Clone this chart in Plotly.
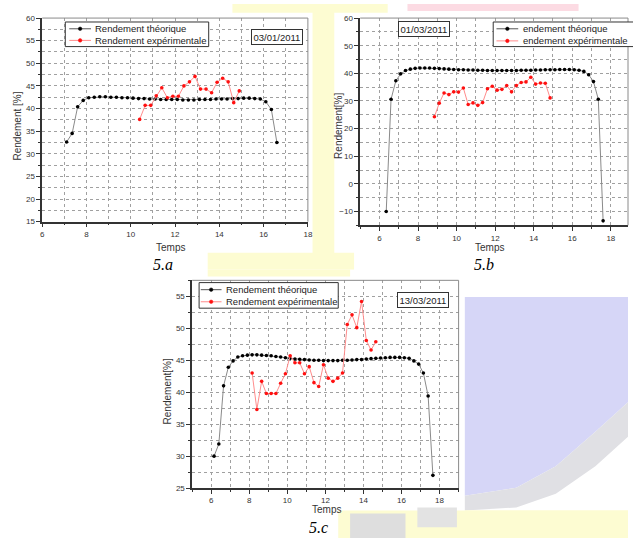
import plotly.graph_objects as go

W, H = 633, 543

# ---------------- data ----------------
a_theo_t = [7.10, 7.35, 7.60, 7.85, 8.10, 8.35, 8.60, 8.85, 9.10, 9.35, 9.60, 9.85, 10.10,
            10.35, 10.60, 10.85, 11.10, 11.35, 11.60, 11.85, 12.10, 12.35, 12.60, 12.85,
            13.10, 13.35, 13.60, 13.85, 14.10, 14.35, 14.60, 14.85, 15.10, 15.35, 15.60,
            15.85, 16.10, 16.35, 16.60]
a_theo = [32.6, 34.5, 40.4, 41.8, 42.4, 42.5, 42.6, 42.6, 42.5, 42.5,
          42.4, 42.4, 42.3, 42.2, 42.2, 42.1, 42.1, 42.0, 42.0, 42.0,
          42.0, 41.9, 41.9, 41.9, 42.0, 42.0, 42.0, 42.1, 42.1, 42.1,
          42.2, 42.2, 42.3, 42.3, 42.2, 42.1, 41.5, 39.8, 32.5]
a_exp_t = [10.40, 10.65, 10.90, 11.15, 11.40, 11.65, 11.90, 12.15, 12.40, 12.65,
           12.90, 13.15, 13.40, 13.65, 13.90, 14.15, 14.40, 14.65, 14.90]
a_exp = [37.6, 40.7, 40.7, 42.8, 44.6, 42.4, 42.7, 42.7, 45.0, 45.9,
         47.1, 44.3, 44.3, 43.5, 45.8, 46.7, 45.9, 41.3, 43.9]

b_theo_t = [6.35, 6.60, 6.85, 7.10, 7.35, 7.60, 7.85, 8.10, 8.35, 8.60,
            8.85, 9.10, 9.35, 9.60, 9.85, 10.10, 10.35, 10.60, 10.85, 11.10,
            11.35, 11.60, 11.85, 12.10, 12.35, 12.60, 12.85, 13.10, 13.35, 13.60,
            13.85, 14.10, 14.35, 14.60, 14.85, 15.10, 15.35, 15.60, 15.85, 16.10,
            16.35, 16.60, 16.85, 17.10, 17.35, 17.60]
b_theo = [-10.0, 30.6, 37.3, 39.8, 41.0, 41.5, 41.8, 41.9, 41.9, 41.9,
          41.8, 41.7, 41.6, 41.5, 41.4, 41.3, 41.3, 41.2, 41.2, 41.1,
          41.1, 41.0, 41.0, 41.0, 41.0, 41.0, 41.0, 41.0, 41.1, 41.1,
          41.1, 41.2, 41.2, 41.3, 41.3, 41.3, 41.4, 41.4, 41.4, 41.3,
          41.1, 40.7, 39.5, 37.0, 30.6, -13.4]
b_exp_t = [8.85, 9.10, 9.35, 9.60, 9.85, 10.10, 10.35, 10.60, 10.85, 11.10,
           11.35, 11.60, 11.85, 12.10, 12.35, 12.60, 12.85, 13.10, 13.35, 13.60,
           13.85, 14.10, 14.35, 14.60, 14.85]
b_exp = [24.3, 29.2, 32.9, 32.3, 33.3, 33.2, 34.7, 28.7, 29.3, 28.4,
         29.4, 34.4, 35.3, 33.9, 34.2, 35.6, 33.3, 35.6, 36.7, 36.9,
         38.6, 36.1, 36.5, 36.4, 31.1]

c_theo_t = [6.15, 6.40, 6.65, 6.90, 7.15, 7.40, 7.65, 7.90, 8.15, 8.40,
            8.65, 8.90, 9.15, 9.40, 9.65, 9.90, 10.15, 10.40, 10.65, 10.90,
            11.15, 11.40, 11.65, 11.90, 12.15, 12.40, 12.65, 12.90, 13.15, 13.40,
            13.65, 13.90, 14.15, 14.40, 14.65, 14.90, 15.15, 15.40, 15.65, 15.90,
            16.15, 16.40, 16.65, 16.90, 17.15, 17.40, 17.65]
c_theo = [30.0, 31.9, 41.0, 43.9, 44.9, 45.5, 45.7, 45.8, 45.85, 45.85,
          45.8, 45.75, 45.7, 45.6, 45.5, 45.4, 45.3, 45.2, 45.15, 45.1,
          45.05, 45.0, 45.0, 44.95, 44.95, 44.95, 44.95, 45.0, 45.0, 45.05,
          45.1, 45.1, 45.2, 45.25, 45.3, 45.35, 45.4, 45.45, 45.45, 45.45,
          45.4, 45.3, 44.9, 44.4, 43.0, 39.4, 27.0]
c_exp_t = [8.15, 8.40, 8.65, 8.90, 9.15, 9.40, 9.65, 9.90, 10.15, 10.40,
           10.65, 10.90, 11.15, 11.40, 11.65, 11.90, 12.15, 12.40, 12.65, 12.90,
           13.15, 13.40, 13.65, 13.90, 14.15, 14.40, 14.65]
c_exp = [43.0, 37.3, 41.7, 39.8, 39.8, 39.8, 41.4, 42.9, 45.7, 44.6,
         44.6, 42.9, 44.0, 41.5, 40.9, 44.3, 42.2, 41.7, 42.2, 43.0,
         50.6, 52.1, 50.1, 54.2, 48.1, 46.6, 47.9]

names_a = ["Rendement théorique", "Rendement expérimentale"]
names_b = ["endement théorique", "endement expérimentale"]
names_c = ["Rendement théorique", "Rendement expérimentale"]
dates = ["03/01/2011", "01/03/2011", "13/03/2011"]
captions = ["5.a", "5.b", "5.c"]
x_title = "Temps"
y_titles = ["Rendement [%]", "Rendement[%]", "Rendement[%]"]

# ---------------- helpers ----------------
def fx(px):
    return px / W

def fy(py):
    return 1 - py / H

FONT = "Arial, Liberation Sans, sans-serif"
THEO_LINE = "#8a8a8a"
THEO_MARK = "black"
EXP_LINE = "#ff8c8c"
EXP_MARK = "#ff1010"

fig = go.Figure()

def add_pair(tt, tv, et, ev, names, xa, ya):
    fig.add_trace(go.Scatter(x=tt, y=tv, mode="lines+markers", name=names[0],
                             line=dict(color=THEO_LINE, width=1),
                             marker=dict(color=THEO_MARK, size=3.6),
                             xaxis=xa, yaxis=ya, showlegend=False))
    fig.add_trace(go.Scatter(x=et, y=ev, mode="lines+markers", name=names[1],
                             line=dict(color=EXP_LINE, width=1),
                             marker=dict(color=EXP_MARK, size=3.6),
                             xaxis=xa, yaxis=ya, showlegend=False))

add_pair(a_theo_t, a_theo, a_exp_t, a_exp, names_a, "x", "y")
add_pair(b_theo_t, b_theo, b_exp_t, b_exp, names_b, "x2", "y2")
add_pair(c_theo_t, c_theo, c_exp_t, c_exp, names_c, "x3", "y3")

GRID = "#a0a0a0"

def xaxis_cfg(dom, rng, anchor):
    return dict(domain=dom, range=rng, anchor=anchor, tick0=6, dtick=2,
                showline=True, linecolor="#333", linewidth=1.5,
                ticks="outside", ticklen=4, tickcolor="#333", tickwidth=1,
                showgrid=True, gridcolor=GRID, griddash="dot", gridwidth=1,
                minor=dict(dtick=1, tick0=6, showgrid=True, gridcolor=GRID,
                           griddash="dot", ticks="outside", ticklen=2, tickcolor="#333"),
                zeroline=False, tickfont=dict(size=8, color="#333", family=FONT))

def yaxis_cfg(dom, rng, anchor, dtick, mdtick, tick0):
    return dict(domain=dom, range=rng, anchor=anchor, tick0=tick0, dtick=dtick,
                showline=True, linecolor="#333", linewidth=1.5,
                ticks="outside", ticklen=4, tickcolor="#333", tickwidth=1,
                showgrid=True, gridcolor=GRID, griddash="dot", gridwidth=1,
                minor=dict(dtick=mdtick, tick0=tick0, showgrid=True, gridcolor=GRID,
                           griddash="dot", ticks="outside", ticklen=2, tickcolor="#333"),
                zeroline=False, tickfont=dict(size=8, color="#333", family=FONT))

# panel pixel boxes (left, top, right, bottom)
box_a = (40.7, 14.3, 309.3, 221.3)
box_b = (362.2, 14.3, 633.0, 225.0)
box_c = (192.3, 281.0, 461.7, 492.3)

def dom(box):
    l, t, r, b = box
    return [fx(l), min(fx(r), 1.0)], [fy(b), fy(t)]

dxa, dya = dom(box_a)
dxb, dyb = dom(box_b)
dxc, dyc = dom(box_c)

fig.update_layout(
    width=W, height=H, margin=dict(l=0, r=0, t=0, b=0),
    paper_bgcolor="white", plot_bgcolor="white",
    font=dict(family=FONT),
    xaxis=xaxis_cfg(dxa, [6, 18], "y"),
    yaxis=yaxis_cfg(dya, [15, 60], "x", 5, 2.5, 15),
    xaxis2=xaxis_cfg(dxb, [5, 18.89], "y2"),
    yaxis2=yaxis_cfg(dyb, [-15, 60], "x2", 10, 5, 0),
    xaxis3=xaxis_cfg(dxc, [5, 19], "y3"),
    yaxis3=yaxis_cfg(dyc, [25, 57.5], "x3", 5, 2.5, 25),
    showlegend=False,
)

shapes = []
ann = []

# lighter top/right frame lines
for xa in ["x", "x2", "x3"]:
    ya = xa.replace("x", "y")
    shapes.append(dict(type="line", xref=xa + " domain", yref=ya + " domain",
                       x0=0, x1=1, y0=1, y1=1, line=dict(color="#8a8a8a", width=1), layer="above"))
    shapes.append(dict(type="line", xref=xa + " domain", yref=ya + " domain",
                       x0=1, x1=1, y0=0, y1=1, line=dict(color="#8a8a8a", width=1), layer="above"))

# faint watermark-like background patches
def rect(x0, y0, x1, y1, color, layer="below", line=None):
    return dict(type="rect", xref="paper", yref="paper", x0=fx(x0), x1=fx(x1),
                y0=fy(y1), y1=fy(y0), fillcolor=color,
                line=line if line else dict(width=0), layer=layer)

def poly(pts, color):
    path = "M " + " L ".join(f"{fx(x)},{fy(y)}" for x, y in pts) + " Z"
    return dict(type="path", xref="paper", yref="paper", path=path,
                fillcolor=color, line=dict(width=0), layer="below")

YEL = "#fdfcd2"
shapes += [
    rect(314, 8, 336, 254, YEL),
    rect(233, 0, 390, 9, YEL),
    rect(208, 253, 356, 270, YEL),
    rect(410, 0, 583, 7, "#fcdbe3"),
    rect(208, 270, 352, 277, YEL),
    poly([(468, 298), (633, 298), (633, 405), (600, 435), (560, 470), (520, 492), (468, 500)], "#d6d6f7"),
    poly([(468, 500), (520, 492), (560, 470), (600, 435), (633, 405), (633, 440), (600, 470), (560, 498), (520, 512), (468, 515)], "#e0e0e4"),
    rect(340, 515, 633, 543, YEL),
    rect(468, 515, 633, 543, YEL),
    rect(352, 518, 408, 543, "#dedede"),
    rect(420, 512, 460, 532, "#e3e3e3"),
]

# manual legends (compact, like the original software)
LEG_FONT = dict(size=9.5, family=FONT, color="#222")

def legend(box, x_line0, x_line1, x_text, rows, names):
    l, t, r, b = box
    shapes.append(rect(l, t, r, b, "white", layer="above", line=dict(color="#333", width=1)))
    styles = [("#555", THEO_MARK), (EXP_LINE, EXP_MARK)]
    for (lc, mc), ry, nm in zip(styles, rows, names):
        shapes.append(dict(type="line", xref="paper", yref="paper",
                           x0=fx(x_line0), x1=fx(x_line1), y0=fy(ry), y1=fy(ry),
                           line=dict(color=lc, width=1), layer="above"))
        cx = (x_line0 + x_line1) / 2
        shapes.append(dict(type="circle", xref="paper", yref="paper",
                           x0=fx(cx - 1.8), x1=fx(cx + 1.8), y0=fy(ry + 1.8), y1=fy(ry - 1.8),
                           fillcolor=mc, line=dict(color=mc, width=0.5), layer="above"))
        ann.append(dict(x=fx(x_text), y=fy(ry), xref="paper", yref="paper", text=nm,
                        showarrow=False, font=LEG_FONT, xanchor="left", yanchor="middle"))

legend((64, 18.3, 209, 43.3), 68, 90, 92.5, (25.2, 37.0), names_a)
legend((496.7, 18.3, 640, 43.3), 500, 522, 524.5, (25.2, 37.5), names_b)
legend((199.3, 283.3, 340, 309.3), 201, 222, 224.5, (290.5, 302.8), names_c)

fig.update_layout(shapes=shapes)

# date boxes
for (cx, cy), d in zip([(277.8, 33.3), (426.8, 25.3), (425.8, 301.0)], dates):
    ann.append(dict(x=fx(cx), y=fy(cy), xref="paper", yref="paper", text=d, showarrow=False,
                    font=dict(size=9.5, family=FONT, color="#222"), bgcolor="white",
                    bordercolor="#333", borderwidth=1, borderpad=1.5,
                    xanchor="center", yanchor="middle"))
# axis titles
for (cx, cy) in [(170.7, 248.0), (492.7, 248.0), (328.0, 514.0)]:
    ann.append(dict(x=fx(cx), y=fy(cy), xref="paper", yref="paper", text=x_title, showarrow=False,
                    font=dict(size=10, family=FONT, color="#333"), xanchor="center", yanchor="middle"))
for (cx, cy), t in zip([(15.7, 124.0), (340.7, 124.0), (168.3, 393.5)], y_titles):
    ann.append(dict(x=fx(cx), y=fy(cy), xref="paper", yref="paper", text=t, showarrow=False,
                    textangle=-90, font=dict(size=10, family=FONT, color="#333"),
                    xanchor="center", yanchor="middle"))
# captions
for (cx, cy), t in zip([(163, 265), (487, 265), (320, 532)], captions):
    ann.append(dict(x=fx(cx), y=fy(cy), xref="paper", yref="paper", text=f"<i>{t}</i>",
                    showarrow=False, font=dict(size=16, family="Liberation Serif, Times New Roman, serif",
                                                color="black"),
                    xanchor="center", yanchor="middle"))
fig.update_layout(annotations=ann)

fig.write_html("out.html", config={"displayModeBar": False},
               post_script="document.body.style.margin='0px';")
